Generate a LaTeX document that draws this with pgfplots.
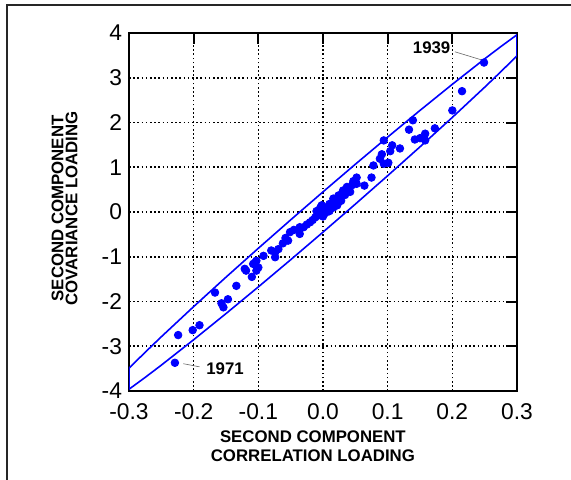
\documentclass[border=0pt]{standalone}
\usepackage{fontspec}
\setmainfont{Liberation Sans}
\usepackage{pgfplots}
\pgfplotsset{compat=1.18}
\begin{document}
\begin{tikzpicture}
\useasboundingbox (-64.5pt,-44.5pt) rectangle (221pt,195.5pt);
% outer frame (only left and top edges fall inside the picture)
\draw[line width=1pt, black!85] (-61pt,-80pt) -- (-61pt,192.75pt) -- (260pt,192.75pt);
\begin{axis}[
    at={(0,0)}, anchor=south west,
    width=194pt, height=179pt, scale only axis,
    xmin=-0.3, xmax=0.3, ymin=-4, ymax=4,
    xtick={-0.3,-0.2,-0.1,0,0.1,0.2,0.3},
    ytick={-4,-3,-2,-1,0,1,2,3,4},
    xtick pos=upper, xticklabel pos=lower,
    ytick pos=upper, yticklabel pos=lower,
    tick align=inside,
    major tick length=5.5pt,
    every tick/.style={black, line width=1pt},
    axis line style={line width=1pt},
    grid=major,
    major grid style={black, line width=0.8pt, dash pattern=on 0.8pt off 1.3pt},
    /pgf/number format/assume math mode=true,
    tick label style={font=\fontsize{11.4}{13}\selectfont},
    xticklabel style={yshift=-3pt, /pgf/number format/fixed,
        /pgf/number format/fixed zerofill, /pgf/number format/precision=1},
    label style={font=\fontsize{8.4}{9.5}\selectfont\bfseries, align=center},
    xlabel={SECOND COMPONENT\\CORRELATION LOADING},
    ylabel={SECOND COMPONENT\\[-2.5pt]COVARIANCE LOADING},
    xlabel style={at={(axis description cs:0.474,-0.155)}, anchor=center},
    ylabel style={at={(axis description cs:-0.166,0.51)}, anchor=center, rotate=0},
]
% confidence ellipse (closed, cut at x = +-0.3)
\addplot[blue, line width=0.8pt] coordinates {
(-0.3,-3.490) (-0.275,-3.135) (-0.25,-2.788) (-0.2,-2.114) (-0.15,-1.456)
(-0.1,-0.811) (-0.05,-0.176) (0,0.450) (0.05,1.067) (0.1,1.674)
(0.15,2.270) (0.2,2.854) (0.25,3.422) (0.275,3.696) (0.3,3.961)
(0.3,3.490) (0.275,3.135) (0.25,2.788) (0.2,2.114) (0.15,1.456)
(0.1,0.811) (0.05,0.176) (0,-0.450) (-0.05,-1.067) (-0.1,-1.674)
(-0.15,-2.270) (-0.2,-2.854) (-0.25,-3.422) (-0.275,-3.696) (-0.3,-3.961)
(-0.3,-3.490)
};
% loadings
\addplot[only marks, mark=*, mark size=1.9pt, blue] coordinates {
(0.249,3.34) (0.215,2.70) (0.200,2.27) (0.139,2.05) (0.133,1.84)
(0.173,1.87) (0.158,1.75) (0.142,1.62) (0.150,1.65) (0.158,1.60)
(0.094,1.60) (0.107,1.49) (0.119,1.42) (0.104,1.36) (0.091,1.29)
(0.088,1.19) (0.094,1.08) (0.101,1.10) (0.078,1.04) (0.075,0.77)
(0.064,0.59) (0.052,0.77) (0.047,0.69) (0.052,0.63) (0.037,0.56)
(0.031,0.48) (0.024,0.37) (0.016,0.30) (0.026,0.33) (0.039,0.52)
(0.045,0.60) (0.020,0.28) (0.010,0.18) (0.005,0.10) (0.000,0.05)
(-0.004,0.00) (0.008,0.05) (0.012,0.12) (0.018,0.22) (0.002,-0.04)
(-0.008,-0.08) (-0.012,-0.12) (-0.016,-0.18) (-0.020,-0.23) (0.000,-0.10)
(0.006,0.00) (-0.004,0.10) (0.014,0.20) (-0.002,0.15) (-0.006,-0.02)
(0.022,0.15) (0.028,0.25) (0.010,0.02) (0.016,0.10) (-0.010,0.02)
(0.034,0.38) (0.042,0.45) (0.030,0.42)
(-0.025,-0.28) (-0.030,-0.34) (-0.036,-0.34) (-0.045,-0.40) (-0.051,-0.45)
(-0.036,-0.49) (-0.054,-0.64) (-0.058,-0.58) (-0.062,-0.70) (-0.069,-0.83)
(-0.074,-1.01) (-0.074,-0.90) (-0.080,-0.86) (-0.092,-0.98) (-0.103,-1.09)
(-0.108,-1.16) (-0.105,-1.13) (-0.100,-1.24) (-0.103,-1.31) (-0.110,-1.45)
(-0.119,-1.31) (-0.121,-1.27) (-0.134,-1.65) (-0.167,-1.80) (-0.147,-1.95)
(-0.157,-2.04) (-0.154,-2.13) (-0.191,-2.53) (-0.2015,-2.64) (-0.224,-2.75)
(-0.229,-3.37)
};
% year labels
\draw[black!60, line width=0.3pt] (axis cs:0.204,3.58) -- (axis cs:0.245,3.40);
\node[font=\fontsize{8.4}{9.5}\selectfont\bfseries] at (axis cs:0.168,3.67) {1939};
\draw[black!60, line width=0.3pt] (axis cs:-0.216,-3.39) -- (axis cs:-0.191,-3.46);
\node[font=\fontsize{8.4}{9.5}\selectfont\bfseries] at (axis cs:-0.1515,-3.51) {1971};
\end{axis}
\end{tikzpicture}
\end{document}
